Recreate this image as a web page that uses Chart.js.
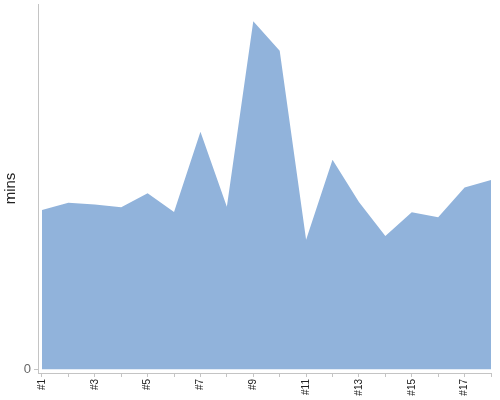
<!DOCTYPE html>
<html>
<head>
<meta charset="utf-8">
<script src="https://cdn.jsdelivr.net/npm/chart.js@4/dist/chart.umd.min.js"></script>
<style>
  html, body { margin:0; padding:0; background:#fff; }
  #wrap { width:500px; height:400px; }
</style>
</head>
<body>
<div id="wrap"><canvas id="chart"></canvas></div>
<script>
const runs = [1,2,3,4,5,6,7,8,9,10,11,12,13,14,15,16,17,18];
const mins = [43.6,45.6,45.1,44.4,48.2,43.1,65.0,44.5,95.3,87.2,35.5,57.4,45.8,36.5,43.0,41.6,49.8,51.8];
const yTicks = [0];

const axisGrey = '#c4c4c4';

// drop the extra room Chart.js keeps for edge labels
function noEdgePad(s){ s.paddingTop = 0; s.paddingBottom = 0; s.paddingLeft = 0; s.paddingRight = 0; }

const ctx = document.getElementById('chart').getContext('2d');
const chart = new Chart(ctx, {
  type: 'line',
  data: {
    datasets: [{
      label: 'mins',
      data: runs.map((r,i)=>({x:r, y:mins[i]})),
      fill: 'origin',
      backgroundColor: 'rgb(145,179,219)',
      borderWidth: 0,
      pointRadius: 0,
      tension: 0
    }]
  },
  options: {
    responsive: true,
    maintainAspectRatio: false,
    animation: false,
    layout: { padding: { top: 4, right: 9, left: 0, bottom: 0 } },
    plugins: { legend: { display: false }, tooltip: { enabled: false } },
    scales: {
      x: {
        type: 'linear',
        min: 0.85, max: 18,
        afterBuildTicks: s => { s.ticks = runs.map(v=>({value:v})); },
        afterFit: s => { s.height = 27; noEdgePad(s); },
        grid: { display: true, drawOnChartArea: false, tickLength: 4, color: axisGrey },
        border: { color: axisGrey },
        ticks: {
          autoSkip: false, minRotation: 90, maxRotation: 90, padding: 2,
          color: '#222', font: { family: 'Liberation Sans, Arial, sans-serif', size: 10 },
          callback: v => (v % 2 === 1 ? '#' + v : '')
        }
      },
      y: {
        min: -1, max: 100,
        afterBuildTicks: s => { s.ticks = yTicks.map(v=>({value:v})); },
        afterFit: s => { s.width = 38; noEdgePad(s); },
        grid: { display: true, drawOnChartArea: false, tickLength: 4, color: axisGrey },
        border: { color: axisGrey },
        ticks: { color: '#666', padding: 3, font: { family: 'Liberation Sans, Arial, sans-serif', size: 13 } },
        title: { display: true, text: 'mins', color: '#222', padding: 2, font: { family: 'Liberation Sans, Arial, sans-serif', size: 15 } }
      }
    }
  }
});
</script>
</body>
</html>
